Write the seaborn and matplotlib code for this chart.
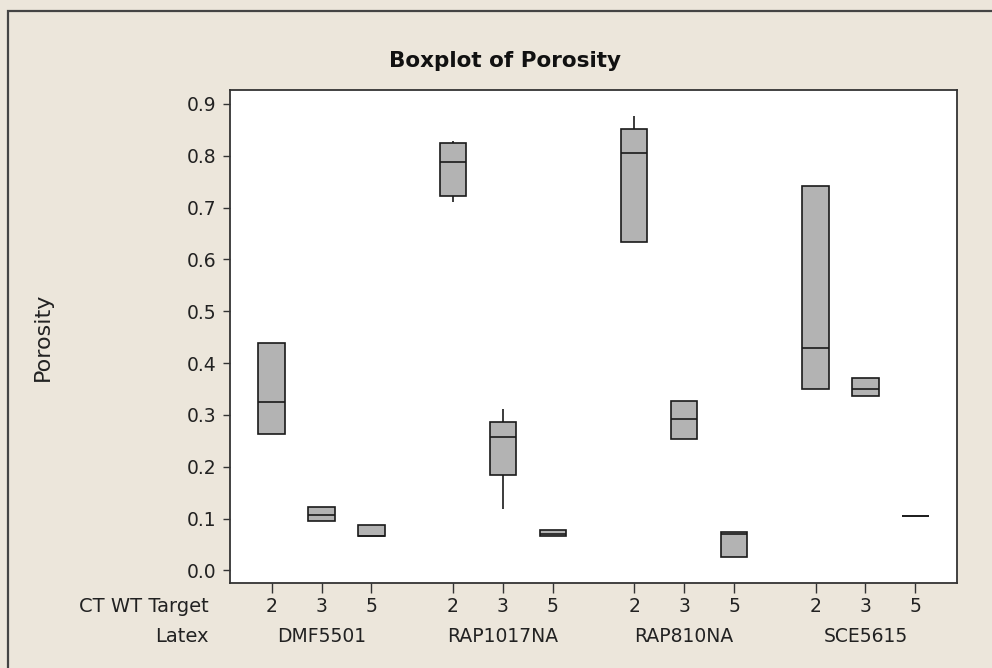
import numpy as np
import pandas as pd
import matplotlib
matplotlib.use("Agg")
import matplotlib.pyplot as plt
import matplotlib.transforms as mtransforms
from matplotlib.patches import Rectangle
import seaborn as sns

# Porosity summaries per Latex / CT WT Target cell
latex = ["DMF5501", "RAP1017NA", "RAP810NA", "SCE5615"]
ct_wt_target = ["2", "3", "5"]

low    = [0.264, 0.096, 0.066, 0.711, 0.119, 0.0656, 0.6345, 0.254, 0.026, 0.350, 0.337, 0.105]
q1     = [0.264, 0.096, 0.066, 0.7227, 0.184, 0.0656, 0.6345, 0.254, 0.026, 0.350, 0.337, 0.105]
median = [0.324, 0.107, 0.067, 0.7876, 0.2566, 0.070, 0.8062, 0.2913, 0.0695, 0.4282, 0.3504, 0.105]
q3     = [0.4386, 0.123, 0.0875, 0.8255, 0.2862, 0.0772, 0.8519, 0.3267, 0.074, 0.7414, 0.371, 0.105]
high   = [0.4386, 0.123, 0.0875, 0.8281, 0.3112, 0.0772, 0.877, 0.3267, 0.074, 0.7414, 0.371, 0.105]

GROUP_STEP = 3.633  # spacing between Latex groups, in units of one box slot

rows = []
k = 0
for g, lx in enumerate(latex):
    for i, ct in enumerate(ct_wt_target):
        pos = g * GROUP_STEP + i
        for v in (low[k], q1[k], median[k], q3[k], high[k]):
            rows.append({"Latex": lx, "CT": ct, "pos": pos, "Porosity": v})
        k += 1
df = pd.DataFrame(rows)

sns.set_style("white")
plt.rcParams["font.family"] = ["DejaVu Sans"]

BG = "#ECE6DB"
TXT = "#222222"
FS = 13.5
fig = plt.figure(figsize=(9.92, 6.68), dpi=100, facecolor=BG)
W, H = 992, 668
ax = fig.add_axes([230 / W, 1 - 583 / H, (957 - 230) / W, (583 - 90) / H])
ax.set_facecolor("white")

sns.boxplot(data=df, x="pos", y="Porosity", native_scale=True, width=0.53,
            color="#B3B3B3", saturation=1, linecolor="#1a1a1a", linewidth=1.2,
            showcaps=False, whis=1.5, fliersize=0, ax=ax)

ax.set_ylim(-0.0243, 0.927)
ax.set_xlim(-0.834, 3 * GROUP_STEP + 2 + 0.834)
ax.set_yticks(np.arange(0, 0.91, 0.1))
ax.set_yticklabels([f"{t:.1f}" for t in np.arange(0, 0.91, 0.1)])

positions = [g * GROUP_STEP + i for g in range(len(latex)) for i in range(len(ct_wt_target))]
ax.set_xticks(positions)
ax.set_xticklabels(ct_wt_target * len(latex))
ax.set_xlabel("")
ax.set_ylabel("Porosity", fontsize=16, color=TXT)
ax.yaxis.set_label_coords((53 - 230) / (957 - 230), 0.5)

ax.tick_params(axis="y", direction="out", length=5, width=1, color="#333333",
               labelsize=FS, pad=5, left=True, labelcolor=TXT)
ax.tick_params(axis="x", direction="out", length=7, width=1, color="#333333",
               labelsize=FS, pad=3, bottom=True, labelcolor=TXT)
for s in ax.spines.values():
    s.set_color("#333333")
    s.set_linewidth(1.3)

# Latex group labels beneath the CT WT Target row
trans = mtransforms.blended_transform_factory(ax.transData, fig.transFigure)
for g, lx in enumerate(latex):
    ax.text(g * GROUP_STEP + 1, 1 - 636 / H, lx, transform=trans, ha="center",
            va="center", fontsize=FS, color=TXT, clip_on=False)

fig.text(209 / W, 1 - 607 / H, "CT WT Target", ha="right", va="center",
         fontsize=FS + 0.5, color=TXT)
fig.text(209 / W, 1 - 636 / H, "Latex", ha="right", va="center",
         fontsize=FS + 0.5, color=TXT)

fig.text(505 / W, 1 - 61 / H, "Boxplot of Porosity", ha="center", va="center",
         fontsize=15.5, fontweight="bold", color="#111111")

# Outer frame of the graph window
fig.patches.append(Rectangle((8 / W, -0.1), 2, (H - 11) / H + 0.1,
                             transform=fig.transFigure, fill=False,
                             edgecolor="#444444", linewidth=1.6))

fig.savefig("out.png", dpi=100, facecolor=BG)
